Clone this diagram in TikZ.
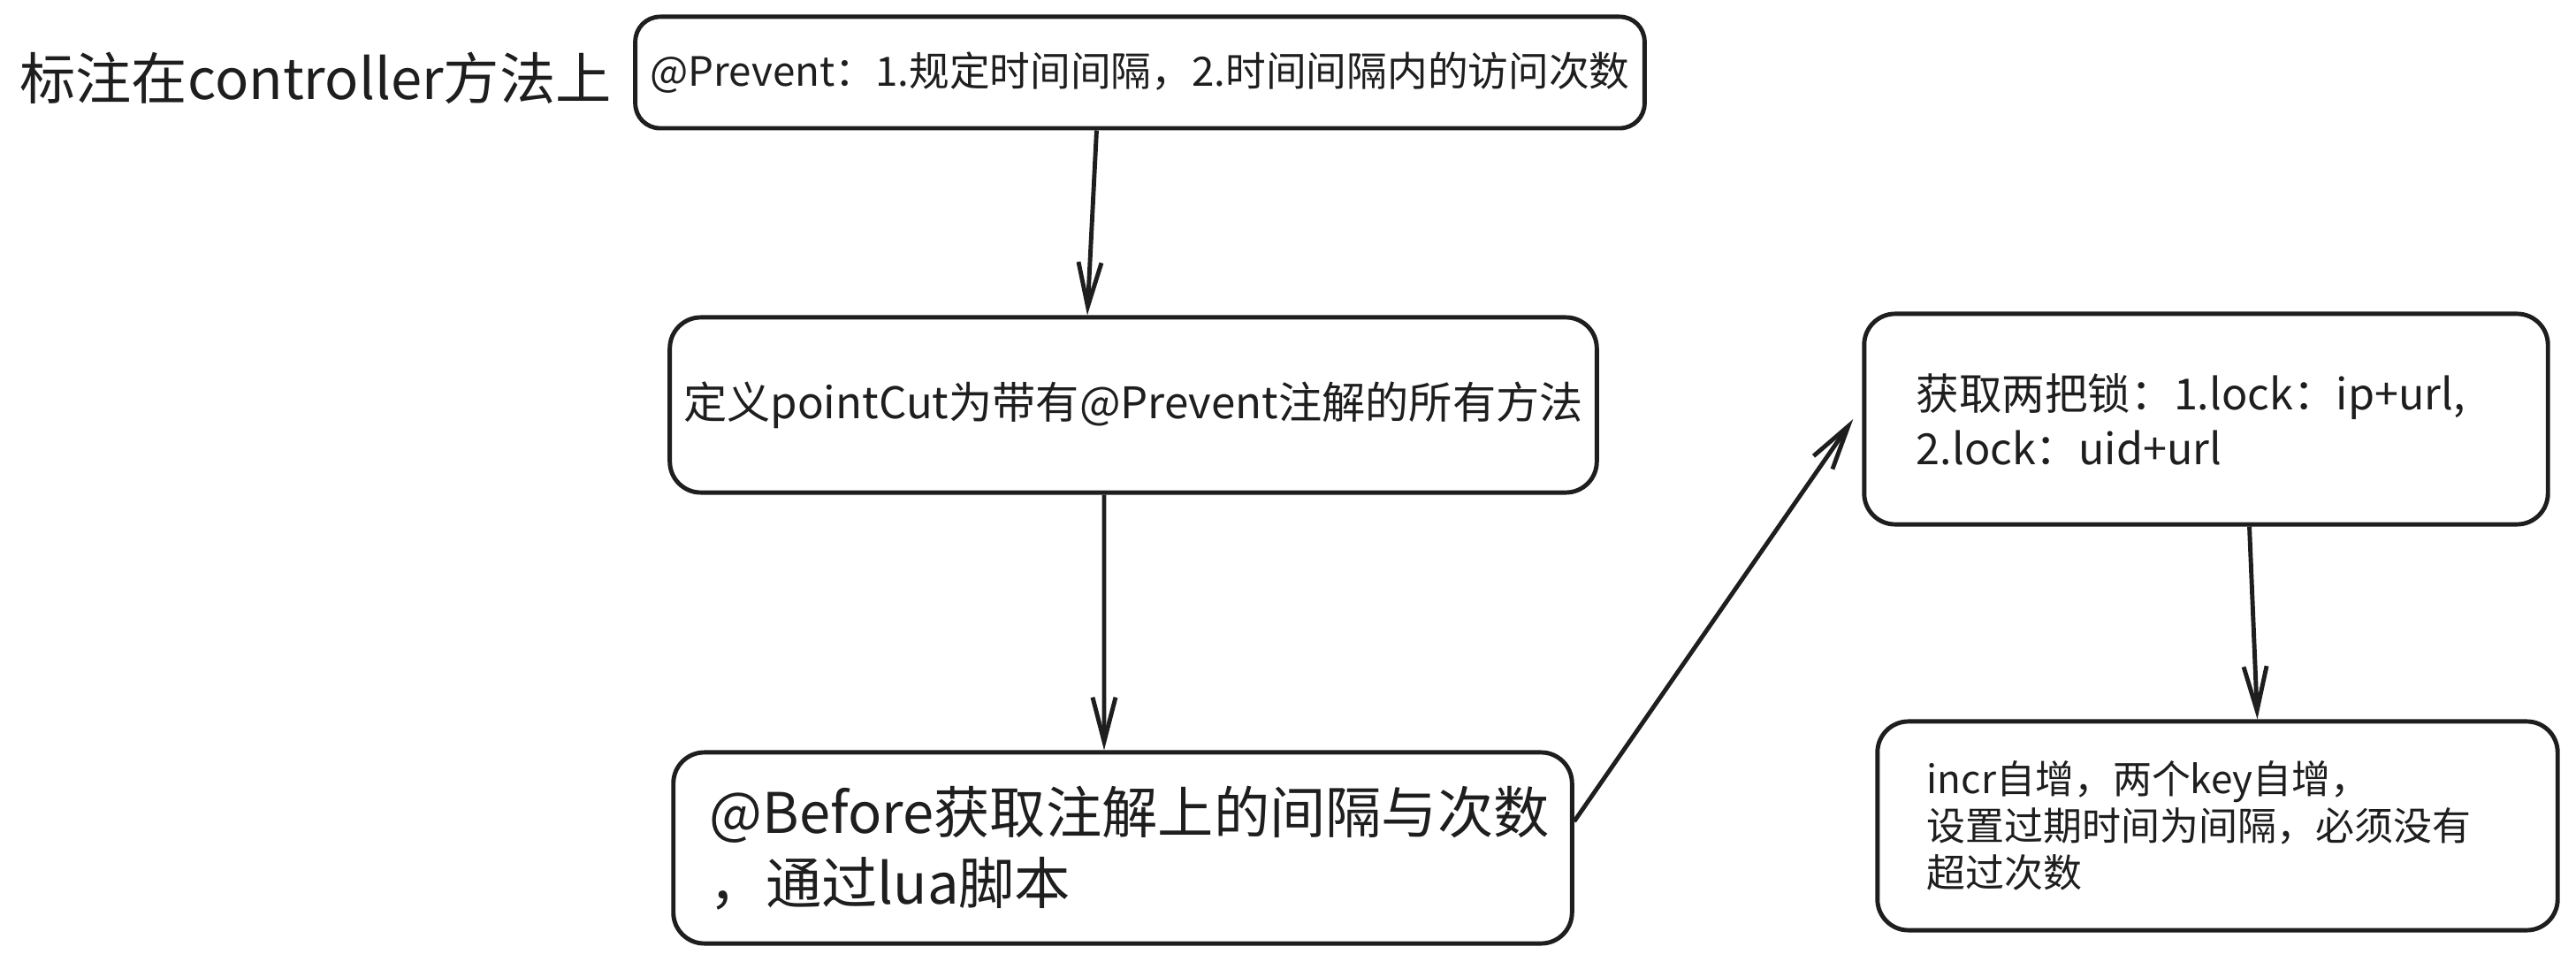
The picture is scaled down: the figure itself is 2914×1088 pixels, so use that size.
\documentclass[tikz,border=0pt]{standalone}
\usepackage{fontspec}
\setmainfont{Noto Sans CJK SC}
\usetikzlibrary{arrows.meta, positioning}
\definecolor{tintaNegra}{HTML}{1E1E1E}
\colorlet{colTrazo}{tintaNegra}
\tikzset{
  cajaPaso/.style={
    draw=colTrazo, line width=1.4pt, rounded corners=0.35cm,
    fill=white, text=colTrazo, inner sep=0pt, align=left
  },
  cajaNota/.style={cajaPaso, rounded corners=0.28cm, align=center},
  textoLibre/.style={text=colTrazo, inner sep=0pt},
  flechaPaso/.style={-{Straight Barb[length=5mm, width=2.6mm]}, line width=1.4pt, colTrazo},
}

\begin{document}
\begin{tikzpicture}[x=0.01cm, y=-0.01cm]
    \useasboundingbox (0,0) rectangle (2914,1088);

    % etiqueta suelta a la izquierda
    \node[textoLibre, font=\fontsize{18pt}{22pt}\selectfont] (anotar) at (357,88) {标注在controller方法上};

    % columna izquierda
    \node[cajaNota, minimum width=11.41cm, minimum height=1.26cm,
          font=\fontsize{13pt}{16pt}\selectfont] (prevent) at (1289.5,82)
          {@Prevent：1.规定时间间隔，2.时间间隔内的访问次数};
    \node[cajaPaso, align=center, minimum width=10.48cm, minimum height=1.98cm,
          font=\fontsize{14pt}{17pt}\selectfont] (pointcut) at (1282,458)
          {定义pointCut为带有@Prevent注解的所有方法};
    \node[cajaPaso, minimum width=10.16cm, minimum height=2.16cm, text width=9.34cm,
          font=\fontsize{18pt}{22.7pt}\selectfont] (before) at (1270,959)
          {@Before获取注解上的间隔与次数\\，通过lua脚本};

    % columna derecha
    \node[cajaPaso, minimum width=7.73cm, minimum height=2.38cm, text width=6.55cm,
          font=\fontsize{13.8pt}{17.6pt}\selectfont] (lock) at (2495.5,474)
          {获取两把锁：1.lock：ip+url,\\2.lock：uid+url};
    \node[cajaPaso, minimum width=7.69cm, minimum height=2.36cm, text width=6.57cm,
          font=\fontsize{12.5pt}{15pt}\selectfont] (incr) at (2508.5,934)
          {incr自增，两个key自增，\\设置过期时间为间隔，必须没有\\超过次数};

    \draw[flechaPaso] ([xshift=-0.49cm]prevent.south) -- ([xshift=-0.52cm]pointcut.north);
    \draw[flechaPaso] ([xshift=-0.33cm]pointcut.south) -- ([xshift=-0.21cm]before.north);
    \draw[flechaPaso] ([yshift=0.3cm]before.east) -- ([xshift=-0.1cm]lock.west);
    \draw[flechaPaso] ([xshift=0.49cm]lock.south) -- ([xshift=0.45cm]incr.north);
\end{tikzpicture}
\end{document}
